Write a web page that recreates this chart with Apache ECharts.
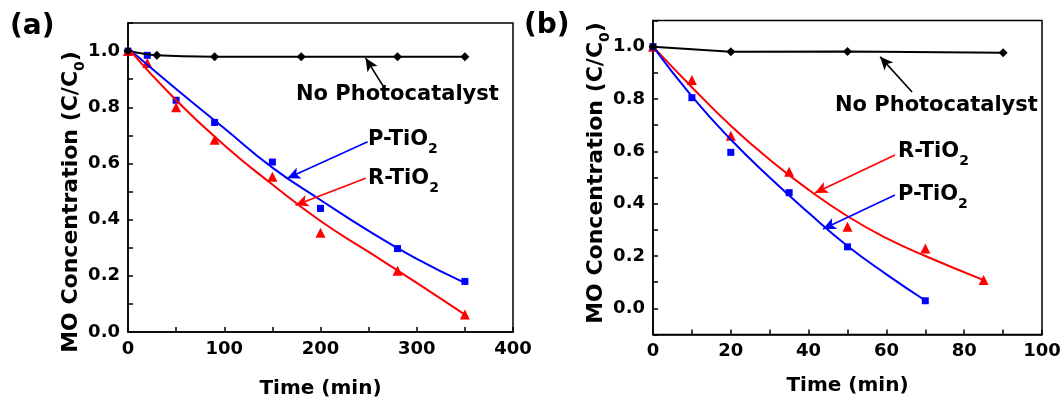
<!DOCTYPE html>
<html>
<head>
<meta charset="utf-8">
<script src="https://cdn.jsdelivr.net/npm/echarts@6/dist/echarts.min.js"></script>
<style>html,body{margin:0;padding:0;background:#fff;}#c{width:1064px;height:404px;}</style>
</head>
<body>
<div id="c"></div>
<script>
// ---------- Panel (a) data ----------
const timeA_noCat = [0, 30, 90, 180, 280, 350];
const noCatA = [1.0, 0.985, 0.98, 0.98, 0.98, 0.98];
const timeA = [0, 20, 50, 90, 150, 200, 280, 350];
const pTiO2A = [1.0, 0.985, 0.825, 0.746, 0.605, 0.44, 0.297, 0.18];
const rTiO2A = [1.0, 0.958, 0.80, 0.684, 0.553, 0.353, 0.218, 0.062];
const fitTimeA = [0, 50, 100, 150, 200, 250, 300, 350];
const pFitA = [1.01, 0.865, 0.725, 0.585, 0.47, 0.36, 0.26, 0.175];
const rFitA = [1.01, 0.825, 0.665, 0.525, 0.395, 0.285, 0.175, 0.062];

// ---------- Panel (b) data ----------
const timeB_noCat = [0, 20, 50, 90];
const noCatB = [1.0, 0.981, 0.982, 0.977];
const timeB_R = [0, 10, 20, 35, 50, 70, 85];
const rTiO2B = [1.0, 0.873, 0.66, 0.522, 0.312, 0.229, 0.108];
const timeB_P = [0, 10, 20, 35, 50, 70];
const pTiO2B = [1.0, 0.805, 0.596, 0.442, 0.235, 0.029];
const fitTimeB_R = [0, 10, 20, 30, 40, 50, 60, 70, 85];
const rFitB = [1.0, 0.845, 0.698, 0.568, 0.453, 0.352, 0.268, 0.2, 0.108];
const fitTimeB_P = [0, 10, 20, 30, 40, 50, 60, 70];
const pFitB = [1.0, 0.81, 0.645, 0.5, 0.365, 0.238, 0.13, 0.03];

// ---------- labels ----------
const panelLabels = ['(a)', '(b)'];
const xTitle = 'Time (min)';
const seriesNames = ['No Photocatalyst', 'P-TiO', 'R-TiO'];

const zip = (xs, ys) => xs.map((x, i) => [x, ys[i]]);
const FONT = 'DejaVu Sans';
const BLUE = '#0000ff', RED = '#ff0000', BLACK = '#000000';

function xAxis(gi, max, interval, labelEvery) {
  return {
    type: 'value', gridIndex: gi, min: 0, max: max, interval: interval,
    name: xTitle, nameLocation: 'middle', nameGap: gi === 0 ? 47 : 41,
    nameTextStyle: { fontFamily: FONT, fontWeight: 'bold', fontSize: 20, color: '#000' },
    axisLine: { onZero: false, lineStyle: { color: '#000', width: 1.5 } },
    axisTick: { inside: true, length: 5, lineStyle: { color: '#000', width: 1.5 } },
    axisLabel: { fontFamily: FONT, fontWeight: 'bold', fontSize: 18, color: '#000', margin: 8,
      formatter: v => (Math.round(v) % labelEvery === 0 ? String(Math.round(v)) : '') },
    splitLine: { show: false }
  };
}
function yAxis(gi, min) {
  return {
    type: 'value', gridIndex: gi, min: min, max: 1.1, interval: 0.1,
    axisLine: { onZero: false, lineStyle: { color: '#000', width: 1.5 } },
    axisTick: { inside: true, length: 5, lineStyle: { color: '#000', width: 1.5 } },
    axisLabel: { fontFamily: FONT, fontWeight: 'bold', fontSize: 18, color: '#000', margin: 8,
      formatter: v => { const k = Math.round(v * 10); return (k >= 0 && k <= 10 && k % 2 === 0) ? (k / 10).toFixed(1) : ''; } },
    splitLine: { show: false }
  };
}
function arrow(p1, p2, color) {
  return [{ coord: p1, symbol: 'none' }, { coord: p2, symbol: 'arrow', symbolSize: [9, 13],
    lineStyle: { color: color } }];
}
function markArrows(list, color) {
  return { silent: true, animation: false, symbol: ['none', 'arrow'], symbolSize: [9, 13],
    label: { show: false }, lineStyle: { color: color, width: 1.6, type: 'solid' },
    data: list.map(a => arrow(a[0], a[1], color)) };
}

const richSub = (color) => ({
  n: { fontFamily: FONT, fontWeight: 'bold', fontSize: 21, color: color, lineHeight: 24, verticalAlign: 'top' },
  s: { fontFamily: FONT, fontWeight: 'bold', fontSize: 14, color: color, lineHeight: 14, padding: [13, 0, 0, 0], verticalAlign: 'top' }
});
function label(x, y, txt, sub, color) {
  return { type: 'text', left: x, top: y, z: 10,
    style: { text: sub ? '{n|' + txt + '}{s|' + sub + '}' : '{n|' + txt + '}', rich: richSub(color) } };
}
const yTitleRich = {
  t: { fontFamily: FONT, fontWeight: 'bold', fontSize: 22, color: '#000', lineHeight: 24, verticalAlign: 'top' },
  s: { fontFamily: FONT, fontWeight: 'bold', fontSize: 14, color: '#000', lineHeight: 14, padding: [13, 0, 0, 0], verticalAlign: 'top' }
};
function yTitle(cx, cy) {
  return { type: 'text', x: cx, y: cy, rotation: Math.PI / 2, z: 10,
    style: { text: '{t|MO Concentration (C/C}{s|0}{t|)}', rich: yTitleRich, align: 'center', verticalAlign: 'middle' } };
}

const fitLine = (xi, xs, ys, color, arrows) => ({
  type: 'line', xAxisIndex: xi, yAxisIndex: xi, data: zip(xs, ys), smooth: 0.5,
  symbol: 'none', lineStyle: { color: color, width: 2 }, markLine: markArrows(arrows, color)
});

const chart = echarts.init(document.getElementById('c'), null, { renderer: 'canvas' });
chart.setOption({
  animation: false,
  backgroundColor: '#fff',
  grid: [
    { left: 128, top: 23, width: 385, height: 312, show: true, borderColor: '#000', borderWidth: 1.5, backgroundColor: 'transparent' },
    { left: 653, top: 20.5, width: 389, height: 314, show: true, borderColor: '#000', borderWidth: 1.5, backgroundColor: 'transparent' }
  ],
  xAxis: [xAxis(0, 400, 50, 100), xAxis(1, 100, 10, 20)],
  yAxis: [yAxis(0, 0), yAxis(1, -0.1)],
  graphic: [
    { type: 'text', left: 10, top: 13, style: { text: panelLabels[0], fontFamily: FONT, fontWeight: 'bold', fontSize: 28, fill: '#000' } },
    { type: 'text', left: 524, top: 12, style: { text: panelLabels[1], fontFamily: FONT, fontWeight: 'bold', fontSize: 28, fill: '#000' } },
    yTitle(72, 202),
    yTitle(597, 173),
    label(296, 84, seriesNames[0], '', BLACK),
    label(368, 129, seriesNames[1], '2', BLUE),
    label(368, 168, seriesNames[2], '2', RED),
    label(835, 95, seriesNames[0], '', BLACK),
    label(898, 141, seriesNames[2], '2', RED),
    label(898, 184, seriesNames[1], '2', BLUE)
  ],
  series: [
    // Panel (a)
    { type: 'line', xAxisIndex: 0, yAxisIndex: 0, data: zip(timeA_noCat, noCatA), smooth: 0.4,
      symbol: 'diamond', symbolSize: 9, showAllSymbol: true, itemStyle: { color: BLACK }, lineStyle: { color: BLACK, width: 2 },
      markLine: markArrows([[[264.6, 0.878], [246.9, 0.975]]], BLACK) },
    fitLine(0, fitTimeA, pFitA, BLUE, [[[249, 0.677], [165.6, 0.547]]]),
    fitLine(0, fitTimeA, rFitA, RED, [[[246.9, 0.547], [174, 0.451]]]),
    { type: 'scatter', xAxisIndex: 0, yAxisIndex: 0, data: zip(timeA, pTiO2A), symbol: 'rect', symbolSize: 7, itemStyle: { color: BLUE, opacity: 1 } },
    { type: 'scatter', xAxisIndex: 0, yAxisIndex: 0, data: zip(timeA, rTiO2A), symbol: 'triangle', symbolSize: 10, itemStyle: { color: RED, opacity: 1 } },
    // Panel (b)
    fitLine(1, fitTimeB_R, rFitB, RED, [[[62.2, 0.586], [41.6, 0.441]]]),
    fitLine(1, fitTimeB_P, pFitB, BLUE, [[[62.2, 0.433], [43.7, 0.303]]]),
    { type: 'scatter', xAxisIndex: 1, yAxisIndex: 1, data: zip(timeB_R, rTiO2B), symbol: 'triangle', symbolSize: 10, itemStyle: { color: RED, opacity: 1 } },
    { type: 'scatter', xAxisIndex: 1, yAxisIndex: 1, data: zip(timeB_P, pTiO2B), symbol: 'rect', symbolSize: 7, itemStyle: { color: BLUE, opacity: 1 } },
    { type: 'line', xAxisIndex: 1, yAxisIndex: 1, data: zip(timeB_noCat, noCatB), smooth: false, z: 5,
      symbol: 'diamond', symbolSize: 9, showAllSymbol: true, itemStyle: { color: BLACK }, lineStyle: { color: BLACK, width: 2 },
      markLine: markArrows([[[66.6, 0.827], [58.4, 0.961]]], BLACK) }
  ]
});
</script>
</body>
</html>
